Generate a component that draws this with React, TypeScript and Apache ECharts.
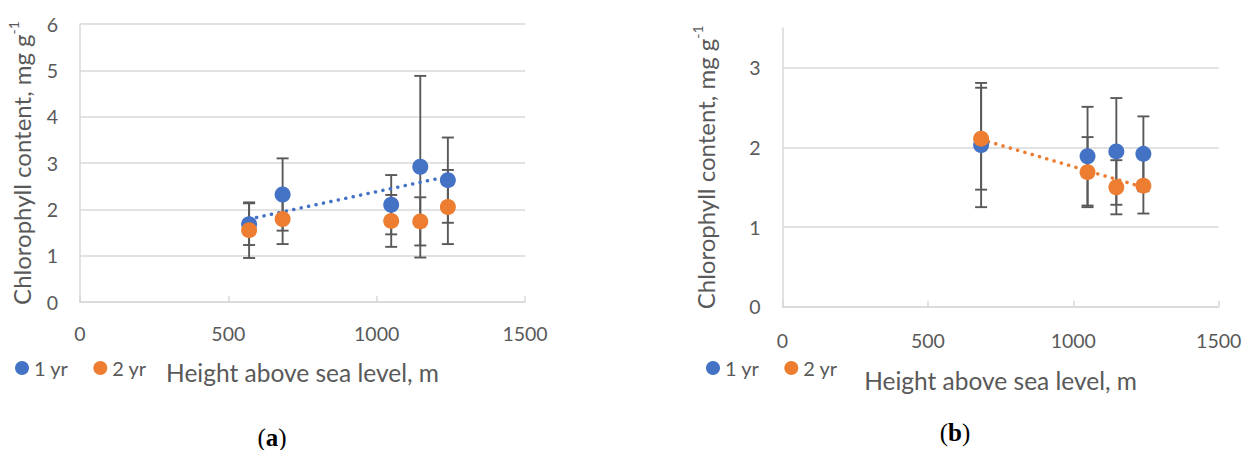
import React, { useEffect, useRef } from 'react';
import * as echarts from 'echarts';

// ---- data ----
const seriesNames = ['1 yr', '2 yr'];
const xTickValues = [0, 500, 1000, 1500];

// Panel (a)
const heightsA = [570, 683, 1049, 1147, 1240];
const yr1A = [1.68, 2.32, 2.1, 2.92, 2.63];
const yr1ErrA = [0.45, 0.78, 0.64, 1.96, 0.92];
const yr2A = [1.55, 1.79, 1.75, 1.74, 2.05];
const yr2ErrA = [0.6, 0.54, 0.56, 0.52, 0.8];
const trendA = [
  [570, 1.79],
  [1240, 2.71],
];
const yTicksA = [0, 1, 2, 3, 4, 5, 6];

// Panel (b)
const heightsB = [683, 1049, 1148, 1241];
const yr1B = [2.03, 1.89, 1.95, 1.92];
const yr1ErrB = [0.78, 0.62, 0.67, 0.47];
const yr2B = [2.11, 1.69, 1.5, 1.52];
const yr2ErrB = [0.64, 0.44, 0.34, 0.35];
const trendB = [
  [683, 2.1],
  [1241, 1.5],
];
const yTicksB = [0, 1, 2, 3];
const yMaxB = 3.5;

const BLUE = '#4472C4';
const ORANGE = '#ED7D31';
const TEXT = '#595959';
const GRID = '#d9d9d9';
const FONT = 'Lato';

const pts = (xs: number[], ys: number[]) => xs.map((x, i) => [x, ys[i]]);
const errs = (xs: number[], ys: number[], es: number[]) =>
  xs.map((x, i) => [x, ys[i] - es[i], ys[i] + es[i]]);

const errorRender = (params: any, api: any) => {
  const x = api.value(0);
  const lo = api.value(1);
  const hi = api.value(2);
  const top = api.coord([x, hi]);
  const bot = api.coord([x, lo]);
  const w = 6;
  const style = { stroke: TEXT, lineWidth: 1.9 };
  return {
    type: 'group',
    children: [
      { type: 'line', shape: { x1: top[0], y1: top[1], x2: bot[0], y2: bot[1] }, style },
      { type: 'line', shape: { x1: top[0] - w, y1: top[1], x2: top[0] + w, y2: top[1] }, style },
      { type: 'line', shape: { x1: bot[0] - w, y1: bot[1], x2: bot[0] + w, y2: bot[1] }, style },
    ],
  };
};

const makeX = (gridIndex: number, labelMargin: number, nameGap: number) => ({
  type: 'value',
  gridIndex,
  min: xTickValues[0],
  max: xTickValues[xTickValues.length - 1],
  interval: xTickValues[1] - xTickValues[0],
  axisLine: { show: true, lineStyle: { color: GRID, width: 1.5 } },
  axisTick: { show: true, inside: true, length: 6, lineStyle: { color: GRID, width: 1.5 } },
  axisLabel: {
    color: TEXT,
    fontFamily: FONT,
    fontSize: 19.5,
    margin: labelMargin,
    formatter: (v: number) => String(v),
  },
  splitLine: { show: false },
  name: 'Height above sea level, m',
  nameLocation: 'middle',
  nameGap,
  nameTextStyle: { color: TEXT, fontFamily: FONT, fontSize: 24.5 },
});

const yName = '{m|Chlorophyll content, mg g}{s|-1}';
const yRich = {
  m: { fontFamily: FONT, fontSize: 24, color: TEXT, lineHeight: 30 },
  s: { fontFamily: FONT, fontSize: 14, color: TEXT, lineHeight: 14, verticalAlign: 'top' },
};

const makeY = (gridIndex: number, ticks: number[], max: number, nameGap: number) => ({
  type: 'value',
  gridIndex,
  min: ticks[0],
  max,
  interval: ticks[1] - ticks[0],
  axisLine: { show: true, lineStyle: { color: GRID, width: 1.5 } },
  axisTick: { show: false },
  axisLabel: {
    color: TEXT,
    fontFamily: FONT,
    fontSize: 19.5,
    margin: 22,
    showMaxLabel: max === ticks[ticks.length - 1],
    formatter: (v: number) => String(v),
  },
  splitLine: {
    show: true,
    showMaxLine: max === ticks[ticks.length - 1],
    lineStyle: { color: GRID, width: 1.5 },
  },
  name: yName,
  nameLocation: 'middle',
  nameRotate: 90,
  nameGap,
  nameTextStyle: { rich: yRich },
});

const legend = (left: number, top: number) => ({
  data: seriesNames,
  left,
  top,
  padding: 0,
  icon: 'circle',
  itemWidth: 14,
  itemHeight: 14,
  itemGap: 25,
  selectedMode: false,
  textStyle: { color: TEXT, fontFamily: FONT, fontSize: 20 },
});

const panelSeries = (
  idx: number,
  xs: number[],
  y1: number[],
  e1: number[],
  y2: number[],
  e2: number[],
  trend: number[][],
  trendColor: string
) => [
  {
    type: 'custom',
    xAxisIndex: idx,
    yAxisIndex: idx,
    renderItem: errorRender,
    data: errs(xs, y1, e1),
    encode: { x: 0, y: [1, 2] },
    z: 1,
    silent: true,
  },
  {
    type: 'custom',
    xAxisIndex: idx,
    yAxisIndex: idx,
    renderItem: errorRender,
    data: errs(xs, y2, e2),
    encode: { x: 0, y: [1, 2] },
    z: 1,
    silent: true,
  },
  {
    type: 'line',
    xAxisIndex: idx,
    yAxisIndex: idx,
    data: trend,
    symbol: 'none',
    silent: true,
    lineStyle: { color: trendColor, width: 3.5, type: [0.1, 7.5], cap: 'round' },
    z: 2,
  },
  {
    name: seriesNames[0],
    type: 'scatter',
    xAxisIndex: idx,
    yAxisIndex: idx,
    data: pts(xs, y1),
    symbol: 'circle',
    symbolSize: 16,
    itemStyle: { color: BLUE, opacity: 1 },
    z: 3,
  },
  {
    name: seriesNames[1],
    type: 'scatter',
    xAxisIndex: idx,
    yAxisIndex: idx,
    data: pts(xs, y2),
    symbol: 'circle',
    symbolSize: 16,
    itemStyle: { color: ORANGE, opacity: 1 },
    z: 3,
  },
];

const panelLabel = (letter: string, x: number, y: number) => ({
  type: 'text',
  x,
  y,
  style: {
    text: `{p|(}{b|${letter}}{p|)}`,
    align: 'center',
    verticalAlign: 'middle',
    rich: {
      p: { fontFamily: 'Liberation Serif', fontSize: 25, color: '#000' },
      b: { fontFamily: 'Liberation Serif', fontSize: 25, fontWeight: 'bold', color: '#000' },
    },
  },
});

export default function App() {
  const ref = useRef<HTMLDivElement>(null);
  useEffect(() => {
    if (!ref.current) return;
    const chart = echarts.init(ref.current, undefined, { renderer: 'svg' });
    chart.setOption({
      animation: false,
      backgroundColor: '#ffffff',
      grid: [
        { left: 80, top: 24, width: 445, height: 278 },
        { left: 782.5, top: 28, width: 436.2, height: 278.7 },
      ],
      xAxis: [makeX(0, 21, 58), makeX(1, 24, 61)],
      yAxis: [makeY(0, yTicksA, 6, 44), makeY(1, yTicksB, yMaxB, 62)],
      legend: [legend(15, 358), legend(706, 358)],
      series: [
        ...panelSeries(0, heightsA, yr1A, yr1ErrA, yr2A, yr2ErrA, trendA, BLUE),
        ...panelSeries(1, heightsB, yr1B, yr1ErrB, yr2B, yr2ErrB, trendB, ORANGE),
      ],
      graphic: [panelLabel('a', 272, 437), panelLabel('b', 955, 432)],
    });
    return () => chart.dispose();
  }, []);
  return (
    <div
      ref={ref}
      style={{ position: 'absolute', left: 0, top: 0, width: 1252, height: 450 }}
    />
  );
}
